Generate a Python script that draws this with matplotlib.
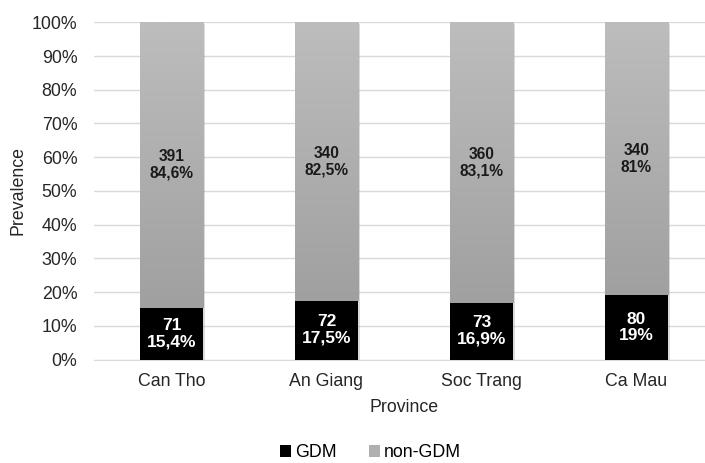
import numpy as np
import matplotlib.pyplot as plt
import matplotlib.patheffects as pe
from matplotlib.patches import Patch
from matplotlib.colors import LinearSegmentedColormap

# data
provinces = ['Can Tho', 'An Giang', 'Soc Trang', 'Ca Mau']
gdm_n = [71, 72, 73, 80]
non_gdm_n = [391, 340, 360, 340]
gdm_pct = [15.4, 17.5, 16.9, 19.0]
non_gdm_pct = [84.6, 82.5, 83.1, 81.0]
gdm_lbl = ['15,4%', '17,5%', '16,9%', '19%']
non_gdm_lbl = ['84,6%', '82,5%', '83,1%', '81%']

plt.rcParams['font.family'] = ['Liberation Sans', 'DejaVu Sans']
FS = 12.8
TXT = '#262626'

fig = plt.figure(figsize=(7.05, 4.63), dpi=100)
ax = fig.add_axes([0.1333, 0.2235, 0.8794, 0.7283])

x = np.arange(len(provinces))
w = 0.41
shadow = [pe.SimplePatchShadow(offset=(1, -1), shadow_rgbFace='#888888', alpha=0.3), pe.Normal()]

# GDM bars (black, bottom)
ax.bar(x, gdm_pct, w, color='black', zorder=3, path_effects=shadow)
# non-GDM bars, filled with a light-to-darker grey gradient
b2 = ax.bar(x, non_gdm_pct, w, bottom=gdm_pct, color='#b0b0b0', zorder=2, path_effects=shadow)
grey_cm = LinearSegmentedColormap.from_list('g', ['#bdbdbd', '#a0a0a0'])
grad = np.linspace(0, 1, 256).reshape(-1, 1)
for rect in b2:
    x0, y0 = rect.get_x(), rect.get_y()
    im = ax.imshow(grad, cmap=grey_cm, aspect='auto',
                   extent=[x0, x0 + rect.get_width(), y0, y0 + rect.get_height()],
                   origin='upper', zorder=2.5)
    im.set_clip_path(rect)

for i in range(len(provinces)):
    ax.text(x[i], gdm_pct[i] / 2, f'{gdm_n[i]}\n{gdm_lbl[i]}', ha='center', va='center',
            color='white', fontsize=12.5, fontweight='bold', zorder=5, linespacing=1.1)
    ax.text(x[i], gdm_pct[i] + non_gdm_pct[i] / 2, f'{non_gdm_n[i]}\n{non_gdm_lbl[i]}',
            ha='center', va='center', color='#1a1a1a', fontsize=11.2, fontweight='bold',
            zorder=5, linespacing=1.15)

ax.set_xlim(-0.5, len(provinces) - 0.5)
ax.set_ylim(0, 100)
ax.set_yticks(np.arange(0, 101, 10))
ax.set_yticklabels([f'{v}%' for v in range(0, 101, 10)])
ax.set_xticks(x)
ax.set_xticklabels(provinces)
ax.tick_params(length=0, labelsize=FS, colors=TXT)
ax.tick_params(axis='y', pad=12)
ax.tick_params(axis='x', pad=10)
ax.yaxis.grid(True, color='#d9d9d9', linewidth=1, zorder=0)
ax.set_axisbelow(True)
for s in ['top', 'right', 'left']:
    ax.spines[s].set_visible(False)
ax.spines['bottom'].set_color('#d9d9d9')

ax.set_xlabel('Province', fontsize=FS, color=TXT, va='center')
ax.xaxis.set_label_coords(0.5, -0.141)
ax.set_ylabel('Prevalence', fontsize=FS, color=TXT, va='center')
ax.yaxis.set_label_coords(-0.1226, 0.5)

handles = [Patch(facecolor='black', label='GDM'), Patch(facecolor='#b0b0b0', label='non-GDM')]
fig.legend(handles=handles, loc='center', bbox_to_anchor=(0.526, 0.022), ncol=2, frameon=False,
           fontsize=FS, handlelength=0.6, handleheight=0.6, handletextpad=0.25, columnspacing=1.8,
           borderaxespad=0.1)

fig.savefig('out.png', dpi=100)
